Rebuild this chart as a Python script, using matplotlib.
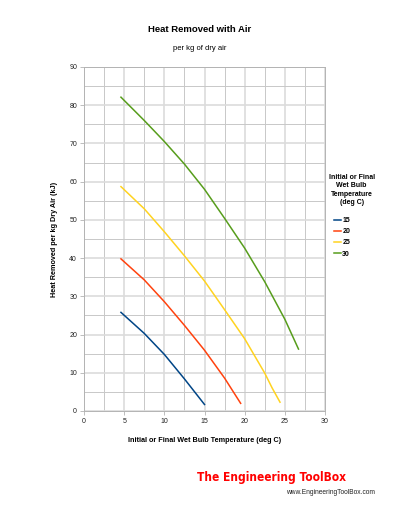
import matplotlib
matplotlib.use("Agg")
import matplotlib.pyplot as plt
from matplotlib.ticker import MultipleLocator

plt.rcParams['font.family'] = ['Liberation Sans', 'DejaVu Sans']

# values
wb_15_x = [4.6, 7.5, 10, 12.5, 15.0]
wb_15_y = [25.8, 20.3, 14.8, 8.4, 1.7]
wb_20_x = [4.6, 7.5, 10, 12.5, 15, 17.5, 19.5]
wb_20_y = [39.8, 34.3, 28.6, 22.4, 15.9, 8.6, 2.0]
wb_25_x = [4.6, 7.5, 10, 12.5, 15, 17.5, 20, 22.5, 23.4, 24.4]
wb_25_y = [58.7, 52.9, 46.9, 40.6, 34.0, 26.5, 18.9, 9.9, 6.1, 2.3]
wb_30_x = [4.6, 7.5, 10, 12.5, 15, 17.5, 20, 22.5, 25, 26.7]
wb_30_y = [82.1, 76.0, 70.5, 64.6, 58.0, 50.4, 42.6, 33.8, 24.0, 16.2]

series = [("15", wb_15_x, wb_15_y, "#004586"),
          ("20", wb_20_x, wb_20_y, "#ff420e"),
          ("25", wb_25_x, wb_25_y, "#ffd320"),
          ("30", wb_30_x, wb_30_y, "#579d1c")]

fig = plt.figure(figsize=(4.0, 5.18), dpi=100)
ax = fig.add_axes([0.21, 0.2066, 0.6025, 0.6641])

for name, xs, ys, col in series:
    ax.plot(xs, ys, color=col, lw=1.1, label=name, solid_joinstyle='round')

ax.set_xlim(0, 30)
ax.set_ylim(0, 90)
ax.xaxis.set_major_locator(MultipleLocator(5))
ax.xaxis.set_minor_locator(MultipleLocator(2.5))
ax.yaxis.set_major_locator(MultipleLocator(10))
ax.yaxis.set_minor_locator(MultipleLocator(5))
ax.grid(which='major', color='#dcdcdc', lw=1.2)
ax.grid(which='minor', color='#c8c8c8', lw=0.7)
ax.set_axisbelow(True)
for s in ax.spines.values():
    s.set_color('#b3b3b3')
    s.set_linewidth(0.7)
ax.tick_params(which='major', length=3, width=0.6, color='#b3b3b3',
               labelsize=5, labelcolor='#222222', pad=2)
ax.tick_params(which='minor', length=0)

ax.set_xlabel('Initial or Final Wet Bulb Temperature (deg C)', fontsize=5.2,
              fontweight='bold', labelpad=9)
ax.set_ylabel('Heat Removed per kg Dry Air (kJ)', fontsize=5.2,
              fontweight='bold', labelpad=8)

fig.text(0.5, 0.944, 'Heat Removed with Air', ha='center', va='center',
         fontsize=6.8, fontweight='bold')
fig.text(0.5, 0.907, 'per kg of dry air', ha='center', va='center', fontsize=5.5)

fig.text(0.879, 0.633, 'Initial or Final\nWet Bulb\nTemperature\n(deg C)',
         ha='center', va='center', fontsize=5, fontweight='bold', linespacing=1.25)
leg = fig.legend(loc='upper left', bbox_to_anchor=(0.835, 0.581), frameon=False,
                 fontsize=5, handlelength=1.0, handletextpad=0.2,
                 labelspacing=0.6, borderaxespad=0, borderpad=0)
for t in leg.get_texts():
    t.set_fontweight('bold')

fig.text(0.492, 0.078, 'The Engineering ToolBox', ha='left', va='center',
         fontsize=8.6, fontweight='bold', color='#ff0000',
         family=['DejaVu Sans'], fontstretch='condensed')
fig.text(0.937, 0.05, 'www.EngineeringToolBox.com', ha='right', va='center',
         fontsize=4.8, color='#222222')

fig.savefig('out.png', dpi=100)
